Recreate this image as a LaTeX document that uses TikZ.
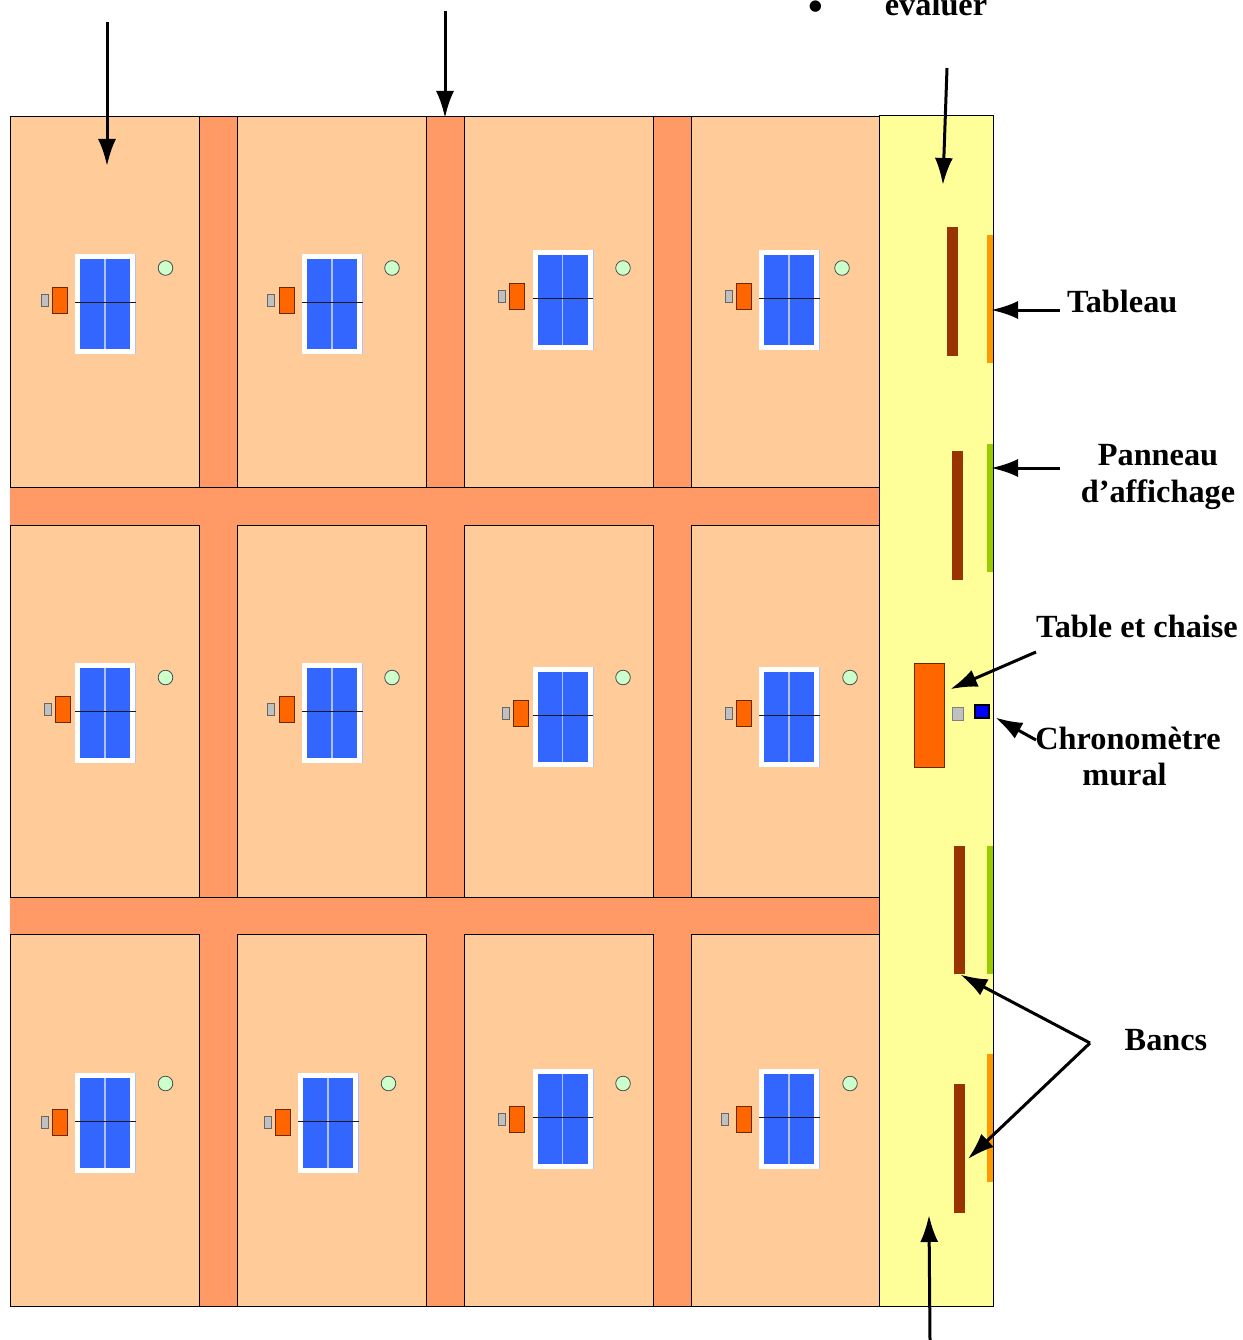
\documentclass[tikz,border=0pt]{standalone}
\usepackage{fontspec}
\setmainfont{Liberation Serif}
\usetikzlibrary{arrows.meta}
\definecolor{plot}{HTML}{FFCC99}
\definecolor{allee}{HTML}{FF9966}
\definecolor{zone}{HTML}{FFFF99}
\definecolor{tablue}{HTML}{3366FF}
\definecolor{chairor}{HTML}{FF6600}
\definecolor{bench}{HTML}{993300}
\definecolor{board}{HTML}{FF9900}
\definecolor{panel}{HTML}{99CC00}
\definecolor{seat}{HTML}{C0C0C0}
\definecolor{ball}{HTML}{CCFFCC}
\tikzset{
  x=1pt,y=-1pt,
  plotbox/.style={fill=plot,draw=black,line width=0.8pt},
  lab/.style={font=\fontsize{32.3}{36.5}\selectfont\bfseries,align=center,inner sep=0pt},
  pointer/.style={draw=black,line width=3pt,shorten >=-3pt,-{Latex[length=27pt,width=18pt]}},
}
% \tabletennis{table left}{table top}{chair left}{chair top}{seat left}{ball x}{ball y}
\newcommand{\tabletennis}[7]{%
  \fill[white] (#1,#2) rectangle ++(60.5,99.5);
  \fill[tablue] (#1+5,#2+5) rectangle ++(50,89.5);
  \draw[white!60!tablue,line width=0.5pt] (#1+60.3,#2) -- ++(0,99.5);
  \draw[white!60!tablue,line width=1.2pt] (#1+30,#2+5) -- ++(0,89.5);
  \draw[black!90,line width=1pt] (#1,#2+48) -- ++(60.5,0);
  \filldraw[fill=chairor,draw=black!60!chairor,line width=0.9pt] (#3,#4) rectangle ++(15,26);
  \filldraw[fill=seat,draw=black!60,line width=1pt] (#5,#4+7.5) rectangle ++(7,11.5);
  \filldraw[fill=ball,draw=black!70,line width=0.8pt] (#6,#7) circle (7.3);
}
\begin{document}
\begin{tikzpicture}
\useasboundingbox (0,0) rectangle (1242,1340);
\fill[white] (0,0) rectangle (1242,1340);
% paths
\fill[allee] (10,116) rectangle (879,1306);
\draw[line width=0.8pt] (10,116) -- (879,116) (10,487) -- (879,487) (10,897) -- (879,897) (10,1306) -- (879,1306);
% plots
\foreach \xa/\xb in {10/199,237/426,464/653,691/879}
  \foreach \ya/\yb in {116/487,525/897,934/1306}
    \draw[plotbox] (\xa,\ya) rectangle (\xb,\yb);
% side zone
\draw[fill=zone,draw=black,line width=1pt] (879.5,115.5) rectangle (993.5,1306);
% tables
\tabletennis{75}{254}{52}{287}{41}{165.5}{268}
\tabletennis{302}{254}{279}{287}{267}{392}{268}
\tabletennis{532.5}{250}{509}{283}{498}{623}{268}
\tabletennis{759}{250}{736}{283}{725}{842}{268}
\tabletennis{75}{663}{55}{696}{44}{165.5}{677.5}
\tabletennis{302}{663}{279}{696}{267}{392}{677.5}
\tabletennis{532.5}{667}{513}{700}{502}{623}{677.5}
\tabletennis{759}{667}{736}{700}{725}{850}{677.5}
\tabletennis{75}{1073}{52}{1109}{41}{165.5}{1083.5}
\tabletennis{298}{1073}{275}{1109}{264}{388.5}{1083.5}
\tabletennis{532.5}{1069}{509}{1106}{498}{623}{1083.5}
\tabletennis{759}{1069}{736}{1106}{721}{850}{1083.5}
% benches
\fill[bench] (947,227) rectangle (957.5,356);
\fill[bench] (952,451) rectangle (963,579.5);
\fill[bench] (954,846) rectangle (965,974);
\fill[bench] (954,1084) rectangle (965,1212.5);
% wall strips
\fill[board] (987,235) rectangle (993,363);
\fill[panel] (987,444) rectangle (993,572);
\fill[panel] (987,846) rectangle (993,974);
\fill[board] (987,1054) rectangle (993,1182);
% officials' table
\filldraw[fill=chairor,draw=black!60!chairor,line width=0.8pt] (914.5,663.5) rectangle (944.5,767);
\filldraw[fill=seat,draw=black!50,line width=0.9pt] (952.5,707.5) rectangle (963.5,720);
\filldraw[fill=blue,draw=black,line width=2pt] (975,704.5) rectangle (989,718);
% labels
\node[lab,anchor=base] (evaluer) at (936,16) {évaluer};
\node[lab,anchor=center,font=\fontsize{42}{42}\selectfont\bfseries] (puce) at (816,10.5) {•};
\node[lab,anchor=base west] (tableau) at (1067,312) {Tableau};
\node[lab] (panneau) at (1158,477) {Panneau\\d’affichage};
\node[lab] (chrono) at (1128,756.5) {Chronomètre\\mural\hspace*{7pt}};
\node[lab,anchor=base west] (tablechaise) at (1036,637) {Table et chaise};
\node[lab,anchor=base] (bancs) at (1166,1050) {Bancs};
% connector ends
\coordinate (a1s) at (107,22);   \coordinate (a1e) at (107,163);
\coordinate (a2s) at (445,11);   \coordinate (a2e) at (445,115);
\coordinate (a3s) at (947,68);   \coordinate (a3e) at (943,182);
\coordinate (a4s) at (930,1340); \coordinate (a4e) at (929,1218);
\coordinate (tabs) at (1060,310); \coordinate (tabe) at (994,310);
\coordinate (pans) at (1060,468); \coordinate (pane) at (994,468);
\coordinate (tcs) at (1036,652); \coordinate (tce) at (953,688);
\coordinate (chs) at (1036,740); \coordinate (che) at (998,719);
\coordinate (bas) at (1090,1043); \coordinate (bae1) at (963,976); \coordinate (bae2) at (970,1157);
\foreach \s/\e in {a1s/a1e,a2s/a2e,a3s/a3e,a4s/a4e,tabs/tabe,pans/pane,tcs/tce,chs/che,bas/bae1,bas/bae2}
  \draw[pointer] (\s) -- (\e);
\end{tikzpicture}
\end{document}
